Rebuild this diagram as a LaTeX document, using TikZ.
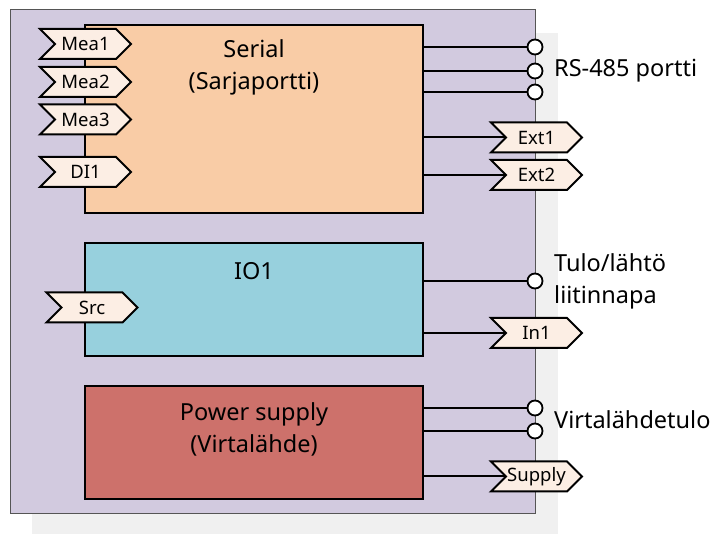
\documentclass[tikz,border=0pt]{standalone}
\usepackage{fontspec}
\setmainfont{Noto Sans}
\usetikzlibrary{shapes.symbols}
\definecolor{purp}{HTML}{D2CADF}
\definecolor{shadowgray}{HTML}{F0F0F0}
\definecolor{peach}{HTML}{F9CCA6}
\definecolor{lblue}{HTML}{97D0DD}
\definecolor{rosered}{HTML}{CD716B}
\definecolor{tagfill}{HTML}{FCEEE4}
\definecolor{outline}{HTML}{555555}
\tikzset{
  block/.style={draw=black, line width=2pt, anchor=north west, inner sep=0pt, outer sep=0pt},
  tag/.style={signal, signal to=east, signal from=west, draw=black, line width=2pt, fill=tagfill,
    minimum width=91pt, minimum height=30pt, inner sep=0pt, font=\fontsize{18.5}{22}\selectfont},
  port/.style={circle, draw=black, fill=white, line width=1.8pt, minimum size=15pt, inner sep=0pt},
  conn/.style={draw=black, line width=2pt},
  lbl/.style={anchor=west, font=\fontsize{23.5}{32}\selectfont, align=left, inner sep=0pt},
  ttl/.style={font=\fontsize{23.5}{32}\selectfont, align=center, inner sep=0pt}
}
\begin{document}
\begin{tikzpicture}[x=1pt,y=-1pt]
\useasboundingbox (0,0) rectangle (716,534);
\fill[shadowgray] (32,33) rectangle (558,534);
\node[draw=outline, line width=1pt, fill=purp, anchor=north west, minimum width=525pt, minimum height=504pt, inner sep=0pt, outer sep=0pt] (sys) at (10,10) {};
% blocks
\node[block, fill=peach, minimum width=338pt, minimum height=188pt] (serial) at (85,25) {};
\node[block, fill=lblue, minimum width=338pt, minimum height=113pt] (io) at (85,243) {};
\node[block, fill=rosered, minimum width=338pt, minimum height=113pt] (pwr) at (85,386) {};
% titles
\node[ttl] (serialtitle) at (254,67) {Serial\\(Sarjaportti)};
\node[ttl] (iotitle) at (254,271) {IO1};
\node[ttl] (pwrtitle) at (254,429) {Power supply\\(Virtalähde)};
% input tags
\node[tag] (mea1) at (85.5,44) {Mea1};
\node[tag] (mea2) at (85.5,82) {Mea2};
\node[tag] (mea3) at (85.5,119.5) {Mea3};
\node[tag] (di1) at (85.5,172) {DI1};
\node[tag] (src) at (92,307.5) {Src};
% ports
\node[port] (p1) at (535,47) {};
\node[port] (p2) at (535,71) {};
\node[port] (p3) at (535,92) {};
\node[port] (p4) at (535,281) {};
\node[port] (p5) at (535,408) {};
\node[port] (p6) at (535,431) {};
% output tags
\node[tag] (ext1) at (536.5,137.5) {Ext1};
\node[tag] (ext2) at (536.5,175) {Ext2};
\node[tag] (in1) at (536.5,333) {In1};
\node[tag] (supply) at (536.5,476.5) {Supply};
% connectors
\draw[conn] (serial.east |- p1) -- (p1);
\draw[conn] (serial.east |- p2) -- (p2);
\draw[conn] (serial.east |- p3) -- (p3);
\draw[conn] (serial.east |- ext1) -- (ext1.west);
\draw[conn] (serial.east |- ext2) -- (ext2.west);
\draw[conn] (io.east |- p4) -- (p4);
\draw[conn] (io.east |- in1) -- (in1.west);
\draw[conn] (pwr.east |- p5) -- (p5);
\draw[conn] (pwr.east |- p6) -- (p6);
\draw[conn] (pwr.east |- supply) -- (supply.west);
% labels
\node[lbl] (rslbl) at (554,71) {RS-485 portti};
\node[lbl] (iolbl) at (554,281) {Tulo/lähtö\\liitinnapa};
\node[lbl] (pwrlbl) at (554,420) {Virtalähdetulo};
\end{tikzpicture}
\end{document}
